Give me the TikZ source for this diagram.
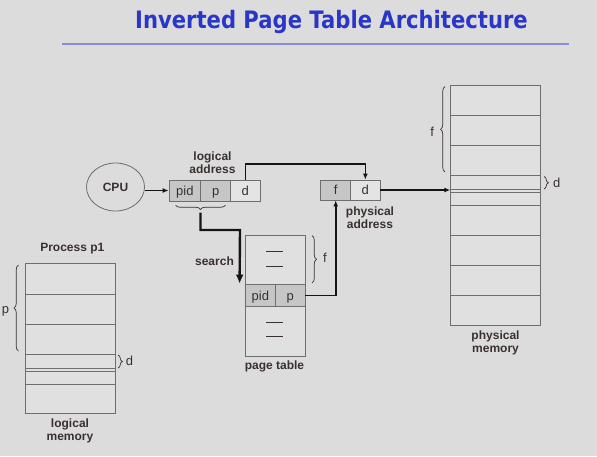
\documentclass[tikz,border=0pt]{standalone}
\usepackage{fontspec}
\setmainfont{Liberation Sans}
\newfontfamily\titlefont[FakeStretch=0.88]{DejaVu Sans}
\usetikzlibrary{decorations.pathreplacing,arrows.meta,shapes.geometric}
\definecolor{bg}{HTML}{DCDCDC}
\definecolor{boxfill}{HTML}{E0E0E0}
\definecolor{txt}{HTML}{3A3030}
\definecolor{boxline}{HTML}{6E6E6E}
\definecolor{cellgray}{HTML}{C6C6C6}
\definecolor{celllight}{HTML}{E4E4E4}
\definecolor{titleblue}{HTML}{2A36C8}
\definecolor{rulecol}{HTML}{8C8CDC}
\definecolor{conn}{HTML}{151515}
\tikzset{
  lbl/.style={text=txt, font=\fontsize{12}{13}\selectfont\bfseries, align=center, inner sep=0pt},
  small/.style={text=txt, font=\fontsize{13}{15}\selectfont, inner sep=0pt},
  cellbase/.style={draw=boxline, line width=0.8pt, text=txt, font=\fontsize{13}{15}\selectfont, inner sep=0pt, text height=9.4pt, text depth=0pt},
  cellg/.style={cellbase, fill=cellgray},
  celll/.style={cellbase, fill=celllight},
  membox/.style={draw=boxline, line width=0.8pt, fill=boxfill, inner sep=0pt},
  memline/.style={draw=boxline, line width=0.8pt},
  brc/.style={draw=txt, line width=0.7pt, decorate, decoration={brace, amplitude=4.5pt}},
  conarrow/.style={draw=conn, line width=1.6pt, -{Latex[length=6pt,width=5pt]}},
  searcharrow/.style={draw=conn, line width=2.4pt, -{Latex[length=9pt,width=8pt]}},
  tickmark/.style={draw=txt, line width=0.8pt}
}
\begin{document}
\begin{tikzpicture}[x=1pt,y=-1pt]
\fill[bg] (0,0) rectangle (597,456);
\useasboundingbox (0,0) rectangle (597,456);

% title
\node[text=titleblue, font=\titlefont\fontsize{24}{26}\selectfont\bfseries, inner sep=0pt] (title) at (331.5,22) {Inverted Page Table Architecture};
\draw[rulecol, line width=2.2pt] (62,44.3) -- (568.5,44.3);

% CPU
\node[draw=boxline, line width=0.8pt, ellipse, minimum width=58pt, minimum height=48pt, inner sep=0pt, text=txt, font=\fontsize{12}{13}\selectfont\bfseries] (cpu) at (115.5,187) {CPU};

% logical address
\node[cellg, minimum width=31.7pt, minimum height=21pt] (lpid) at (184.9,190.5) {pid};
\node[cellg, minimum width=30pt, minimum height=21pt] (lp) at (215.7,190.5) {p};
\node[celll, minimum width=29.3pt, minimum height=21pt] (ld) at (245.35,190.5) {d};
\node[lbl] (laddr) at (212.5,163) {logical\\address};

% physical address
\node[cellg, minimum width=30pt, minimum height=20pt] (pf) at (335.7,190) {f};
\node[celll, minimum width=29.3pt, minimum height=20pt] (pd) at (365.35,190) {d};
\node[lbl] (paddr) at (370,217.5) {physical\\address};

% page table
\node[membox, minimum width=60pt, minimum height=49pt] (ptup) at (275,259.5) {};
\node[cellg, minimum width=30.7pt, minimum height=22.7pt] (ptpid) at (260.35,295.35) {pid};
\node[cellg, minimum width=29.3pt, minimum height=22.7pt] (ptp) at (290.35,295.35) {p};
\node[membox, minimum width=60pt, minimum height=49.3pt] (ptlow) at (275,331.35) {};
\draw[tickmark] (266,251.7) -- (283,251.7);
\draw[tickmark] (266,266) -- (283,266);
\draw[tickmark] (266,322.7) -- (283,322.7);
\draw[tickmark] (266,336.7) -- (283,336.7);
\node[lbl] (ptlabel) at (274.5,366.7) {page table};
\draw[brc] (312,235.5) -- (312,283);
\node[small] (ptf) at (325,258) {f};

% physical memory
\node[membox, minimum width=90pt, minimum height=240.7pt] (pmem) at (495.7,205.35) {};
\foreach \yy in {115,145.7,175.7,189,192.3,205.7,235.7,265.7,295.7}
  \draw[memline] (450.7,\yy) -- (540.7,\yy);
\node[lbl] (pmlabel) at (495.5,343) {physical\\memory};
\draw[brc] (445,172) -- (445,86.5);
\node[small] (pmf) at (432.3,131.7) {f};
\draw[brc] (544,176.5) -- (544,189);
\node[small] (pmd) at (556.7,183.3) {d};

% logical memory
\node[lbl] (proc) at (72.3,248.3) {Process p1};
\node[membox, minimum width=90.3pt, minimum height=150pt] (lmem) at (70.15,338.3) {};
\foreach \yy in {294,324,354,368.7,371.3,384}
  \draw[memline] (25,\yy) -- (115.3,\yy);
\node[lbl] (lmlabel) at (70,431) {logical\\memory};
\draw[brc] (18.5,351) -- (18.5,265);
\node[small] (lmp) at (5.5,311.7) {p};
\draw[brc] (118,355) -- (118,368);
\node[small] (lmd) at (129.5,360.7) {d};

% brace under pid/p
\draw[brc] (225.5,205) -- (175.5,205);
\coordinate (brtip) at (200.5,212.5);
\coordinate (toprow) at (0,164);

% connectors
\draw[conarrow] (lpid.west -| cpu.east) -- (lpid.west);
\draw[conarrow] (ld.north) -- (ld.north |- toprow) -| (pd.north);
\draw[searcharrow] (brtip) |- (240,230) -- ([xshift=-5pt]ptpid.north west);
\node[lbl] (search) at (214.5,261) {search};
\draw[conarrow] (ptp.east) -| (pf.south);
\draw[conarrow] (pd.east) -- (pd.east -| pmem.west);
\end{tikzpicture}
\end{document}
